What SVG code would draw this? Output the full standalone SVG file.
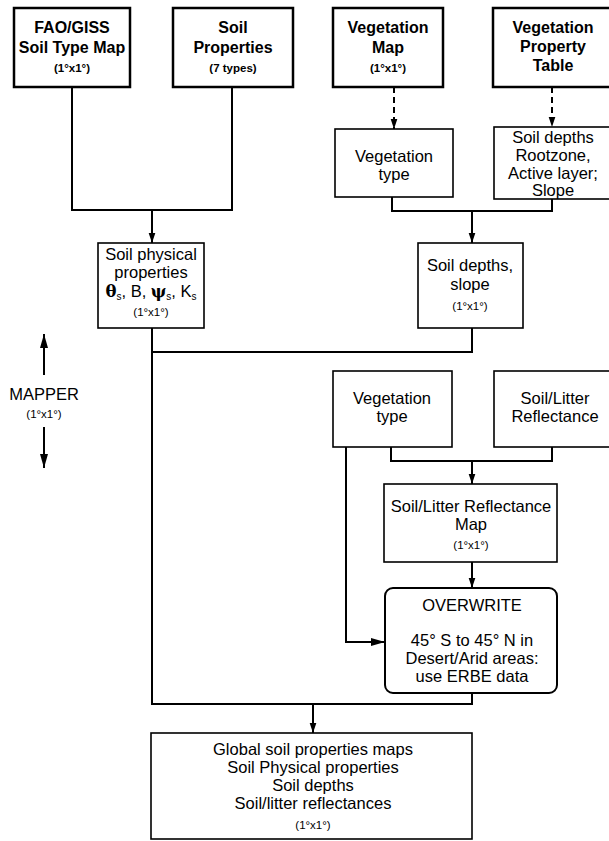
<svg xmlns="http://www.w3.org/2000/svg" width="609" height="841" viewBox="0 0 609 841">
<style>
.thick{fill:#fff;stroke:#000;stroke-width:2.5}
.thin{fill:#fff;stroke:#000;stroke-width:1.6}
.b{font-family:"Liberation Sans",Arial,sans-serif;font-weight:bold;font-size:16px;text-anchor:middle;fill:#000}
.r{font-family:"Liberation Sans",Arial,sans-serif;font-size:16.5px;text-anchor:middle;fill:#000}
.sb{font-family:"Liberation Sans",Arial,sans-serif;font-weight:bold;font-size:11.5px;text-anchor:middle;fill:#000}
.s{font-family:"Liberation Sans",Arial,sans-serif;font-size:11.5px;text-anchor:middle;fill:#000}
.ln{fill:none;stroke:#000;stroke-width:2}
.dash{fill:none;stroke:#000;stroke-width:2;stroke-dasharray:6 4}
</style>
<defs>
<marker id="ah" markerWidth="10" markerHeight="12" viewBox="0 0 12 10" refX="12" refY="5" orient="auto" markerUnits="userSpaceOnUse">
<path d="M0,1 L12,5 L0,9 Z" fill="#000"/>
</marker>
<marker id="ahl" markerWidth="14" markerHeight="10" viewBox="0 0 14 10" refX="14" refY="5" orient="auto" markerUnits="userSpaceOnUse">
<path d="M0,1 L14,5 L0,9 Z" fill="#000"/>
</marker>
</defs>
<rect width="609" height="841" fill="#fff"/>

<g id="connectors">
<path class="ln" d="M72,87 V210 H232 V87"/>
<path class="ln" d="M152,210 V243" marker-end="url(#ah)"/>
<path class="dash" d="M394,87 V129" marker-end="url(#ah)"/>
<path class="dash" d="M552,87 V127" marker-end="url(#ah)"/>
<path class="ln" d="M392,197 V211 H552 V199"/>
<path class="ln" d="M472,211 V243" marker-end="url(#ah)"/>
<path class="ln" d="M472,328 V352 H152"/>
<path class="ln" d="M152,328 V704 H472 V693"/>
<path class="ln" d="M313,704 V733" marker-end="url(#ah)"/>
<path class="ln" d="M391,447 V461 H552 V447"/>
<path class="ln" d="M472,461 V484" marker-end="url(#ah)"/>
<path class="ln" d="M472,562 V588" marker-end="url(#ah)"/>
<path class="ln" d="M346,447 V642 H385" marker-end="url(#ahl)"/>
<path class="ln" d="M44,375 V334" marker-end="url(#ahl)"/>
<path class="ln" d="M44,427 V468" marker-end="url(#ahl)"/>
</g>

<g id="fao">
<rect class="thick" x="14" y="8" width="116" height="79"/>
<text class="b" x="72" y="33">FAO/GISS</text>
<text class="b" x="72" y="53">Soil Type Map</text>
<text class="sb" x="72" y="72">(1°x1°)</text>
</g>
<g id="soilprops">
<rect class="thick" x="173" y="8" width="120" height="79"/>
<text class="b" x="233" y="33">Soil</text>
<text class="b" x="233" y="53">Properties</text>
<text class="sb" x="233" y="72">(7 types)</text>
</g>
<g id="vegmap">
<rect class="thick" x="333" y="8" width="110" height="79"/>
<text class="b" x="388" y="33">Vegetation</text>
<text class="b" x="388" y="53">Map</text>
<text class="sb" x="388" y="72">(1°x1°)</text>
</g>
<g id="vegtable">
<rect class="thick" x="493" y="8" width="118" height="79"/>
<text class="b" x="553" y="33">Vegetation</text>
<text class="b" x="553" y="52">Property</text>
<text class="b" x="553" y="71">Table</text>
</g>

<g id="vegtype1">
<rect class="thin" x="335" y="129" width="118" height="68"/>
<text class="r" x="394" y="162">Vegetation</text>
<text class="r" x="394" y="180">type</text>
</g>
<g id="rootzone">
<rect class="thin" x="494" y="127" width="117" height="72"/>
<text class="r" x="553" y="143">Soil depths</text>
<text class="r" x="553" y="161">Rootzone,</text>
<text class="r" x="553" y="179">Active layer;</text>
<text class="r" x="553" y="196">Slope</text>
</g>

<g id="soilphys">
<rect class="thin" x="98" y="243" width="106" height="85"/>
<text class="r" x="151" y="260">Soil physical</text>
<text class="r" x="151" y="278">properties</text>
<text class="r" x="151" y="297"><tspan font-family="'DejaVu Serif',serif" font-weight="bold">θ</tspan><tspan font-size="10" dy="3">s</tspan><tspan dy="-3">, B, </tspan><tspan font-family="'DejaVu Serif',serif" font-weight="bold">ψ</tspan><tspan font-size="10" dy="3">s</tspan><tspan dy="-3">, K</tspan><tspan font-size="10" dy="3">s</tspan></text>
<text class="s" x="151" y="316">(1°x1°)</text>
</g>

<g id="soildepths">
<rect class="thin" x="418" y="243" width="105" height="85"/>
<text class="r" x="470" y="271">Soil depths,</text>
<text class="r" x="470" y="290">slope</text>
<text class="s" x="470" y="310">(1°x1°)</text>
</g>

<g id="mapper">
<text class="r" x="44" y="400" font-size="16">MAPPER</text>
<text class="s" x="44" y="418">(1°x1°)</text>
</g>

<g id="vegtype2">
<rect class="thin" x="333" y="371" width="119" height="76"/>
<text class="r" x="392" y="404">Vegetation</text>
<text class="r" x="392" y="422">type</text>
</g>
<g id="soillitter">
<rect class="thin" x="494" y="371" width="117" height="76"/>
<text class="r" x="555" y="404">Soil/Litter</text>
<text class="r" x="555" y="422">Reflectance</text>
</g>

<g id="reflmap">
<rect class="thin" x="384" y="484" width="173" height="78"/>
<text class="r" x="471" y="512">Soil/Litter Reflectance</text>
<text class="r" x="471" y="530">Map</text>
<text class="s" x="471" y="549">(1°x1°)</text>
</g>

<g id="overwrite">
<rect class="ln" x="385" y="588" width="172" height="105" rx="8" fill="#fff"/>
<text class="r" x="472" y="611">OVERWRITE</text>
<text class="r" x="472" y="646">45° S to 45° N in</text>
<text class="r" x="472" y="664">Desert/Arid areas:</text>
<text class="r" x="472" y="682">use ERBE data</text>
</g>

<g id="global">
<rect class="thin" x="151" y="733" width="321" height="106"/>
<text class="r" x="313" y="755">Global soil properties maps</text>
<text class="r" x="313" y="773">Soil Physical properties</text>
<text class="r" x="313" y="791">Soil depths</text>
<text class="r" x="313" y="809">Soil/litter reflectances</text>
<text class="s" x="313" y="829">(1°x1°)</text>
</g>
</svg>
